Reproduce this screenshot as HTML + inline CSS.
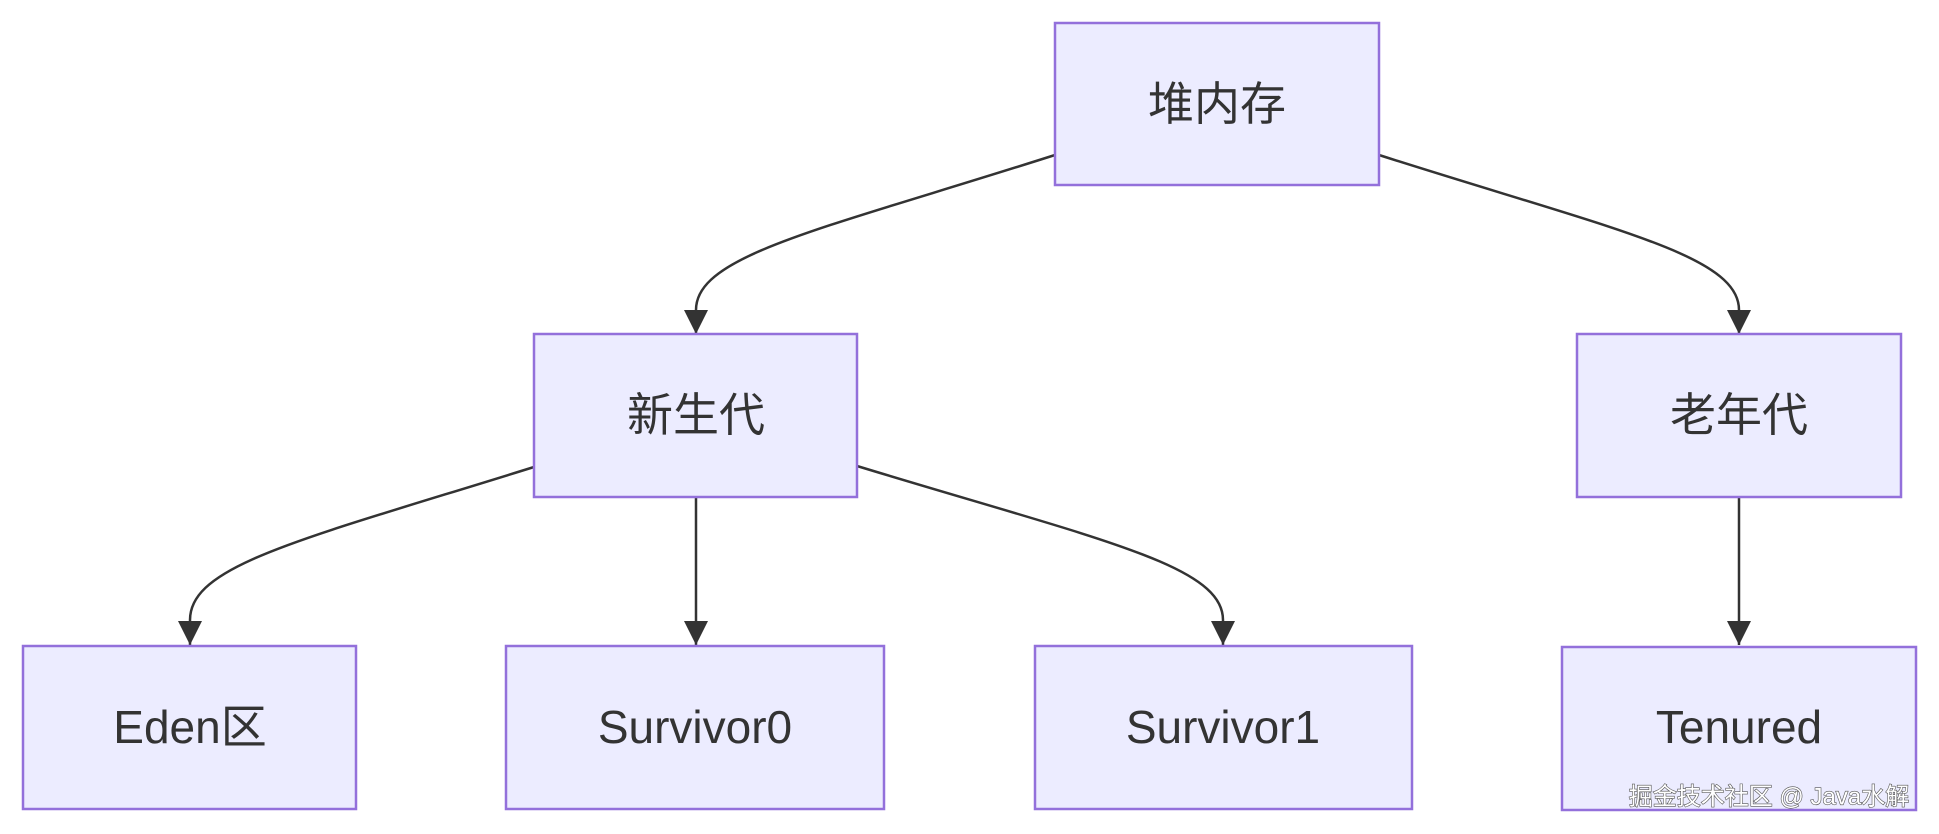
<!DOCTYPE html>
<html><head><meta charset="utf-8"><style>
html,body{margin:0;padding:0;background:#fff;width:1939px;height:834px;overflow:hidden}
svg{display:block}
text{font-family:"Liberation Sans","Noto Sans CJK SC",sans-serif;fill:#333;font-size:46px;text-anchor:middle;dominant-baseline:central}
</style></head><body>
<svg width="1939" height="834" viewBox="0 0 1939 834">
<defs>
<marker id="b" viewBox="0 0 12 12" refX="12" refY="6" markerWidth="24" markerHeight="24" markerUnits="userSpaceOnUse" orient="auto"><path d="M0,0L12,6L0,12z" fill="#333"/></marker></defs>
<g fill="none" stroke="#333" stroke-width="2.5">
<path d="M1055,155 C820,230 696,255 696,310 L696,334" marker-end="url(#b)"/>
<path d="M1379,155 C1614,230 1739,255 1739,310 L1739,334" marker-end="url(#b)"/>
<path d="M534,467 C300,540 190,565 190,620 L190,645" marker-end="url(#b)"/>
<path d="M696,497 L696,645" marker-end="url(#b)"/>
<path d="M857,466 C1100,540 1223,565 1223,620 L1223,645" marker-end="url(#b)"/>
<path d="M1739,497 L1739,645" marker-end="url(#b)"/>
</g>
<g fill="#ececff" stroke="#9370db" stroke-width="2.5">
<rect x="1055" y="23" width="324" height="162"/>
<rect x="534" y="334" width="323" height="163"/>
<rect x="1577" y="334" width="324" height="163"/>
<rect x="23" y="646" width="333" height="163"/>
<rect x="506" y="646" width="378" height="163"/>
<rect x="1035" y="646" width="377" height="163"/>
<rect x="1562" y="647" width="354" height="163"/>
</g>
<text x="1217" y="104">堆内存</text>
<text x="696" y="415">新生代</text>
<text x="1739" y="415">老年代</text>
<text x="190" y="727">Eden区</text>
<text x="695" y="727">Survivor0</text>
<text x="1223" y="727">Survivor1</text>
<text x="1739" y="727">Tenured</text>
<text x="1769" y="797" style="font-size:24px;fill:#fff;stroke:#555;stroke-width:1.2;paint-order:stroke">掘金技术社区 @ Java水解</text>
</svg>
</body></html>
